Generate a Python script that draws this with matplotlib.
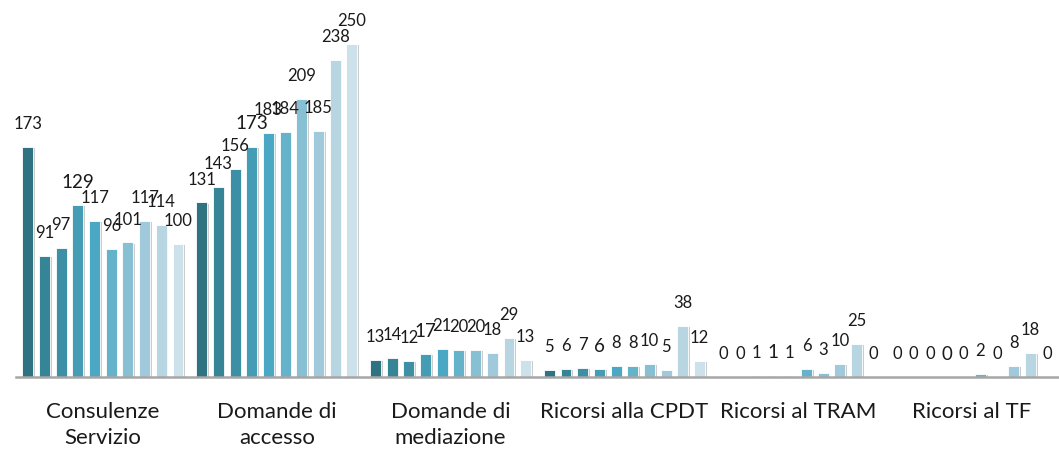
import matplotlib
matplotlib.use("Agg")
import matplotlib.pyplot as plt
import matplotlib.patheffects as pe
import numpy as np

categories = ["Consulenze\nServizio", "Domande di\naccesso", "Domande di\nmediazione",
              "Ricorsi alla CPDT", "Ricorsi al TRAM", "Ricorsi al TF"]
series_values = [
    [173, 91, 97, 129, 117, 96, 101, 117, 114, 100],
    [131, 143, 156, 173, 183, 184, 209, 185, 238, 250],
    [13, 14, 12, 17, 21, 20, 20, 18, 29, 13],
    [5, 6, 7, 6, 8, 8, 10, 5, 38, 12],
    [0, 0, 1, 1, 1, 6, 3, 10, 25, 0],
    [0, 0, 0, 0, 0, 2, 0, 8, 18, 0],
]
colors = ["#2F7382", "#358596", "#3D8FA5", "#449DB4", "#4AA8C4",
          "#65B3CA", "#86C0D2", "#A0CADB", "#B8D6E2", "#CCE1EA"]

plt.rcParams['font.family'] = ['Lato', 'DejaVu Sans']

fig = plt.figure(figsize=(10.59, 4.5), dpi=100)
ax = fig.add_axes([16/1059, 73/450, 1043/1059, 377/450])

vals = np.array(series_values)
n_cat, n_ser = vals.shape
x = np.arange(n_cat)
slot = 0.096
width = 0.063
shadow = [pe.SimplePatchShadow(offset=(1.2, -0.8), shadow_rgbFace="#9a9a9a", alpha=0.5), pe.Normal()]

for j in range(n_ser):
    xs = x + (j - (n_ser - 1) / 2) * slot
    bars = ax.bar(xs, vals[:, j], width=width, color=colors[j],
                  edgecolor="white", linewidth=0.6, zorder=3)
    for b in bars:
        b.set_path_effects(shadow)
    for xi, v in zip(xs, vals[:, j]):
        ax.annotate(str(v), (xi, v), xytext=(0, 16.5), textcoords="offset points",
                    ha="center", va="center", fontsize=13.5 if j == 3 else 12,
                    color="#1a1a1a", annotation_clip=False, zorder=5)

ax.set_xlim(-0.5, n_cat - 0.5)
ax.set_ylim(0, 283)
ax.set_xticks(x)
ax.set_xticklabels(categories, fontsize=16, color="#1a1a1a", linespacing=1.4)
ax.tick_params(axis="x", length=0, pad=18)
ax.set_yticks([])
for s in ["top", "right", "left"]:
    ax.spines[s].set_visible(False)
ax.spines["bottom"].set_color("#A6A6A6")
ax.spines["bottom"].set_linewidth(1.8)
ax.spines["bottom"].set_zorder(4)

fig.savefig("out.png", dpi=100)
